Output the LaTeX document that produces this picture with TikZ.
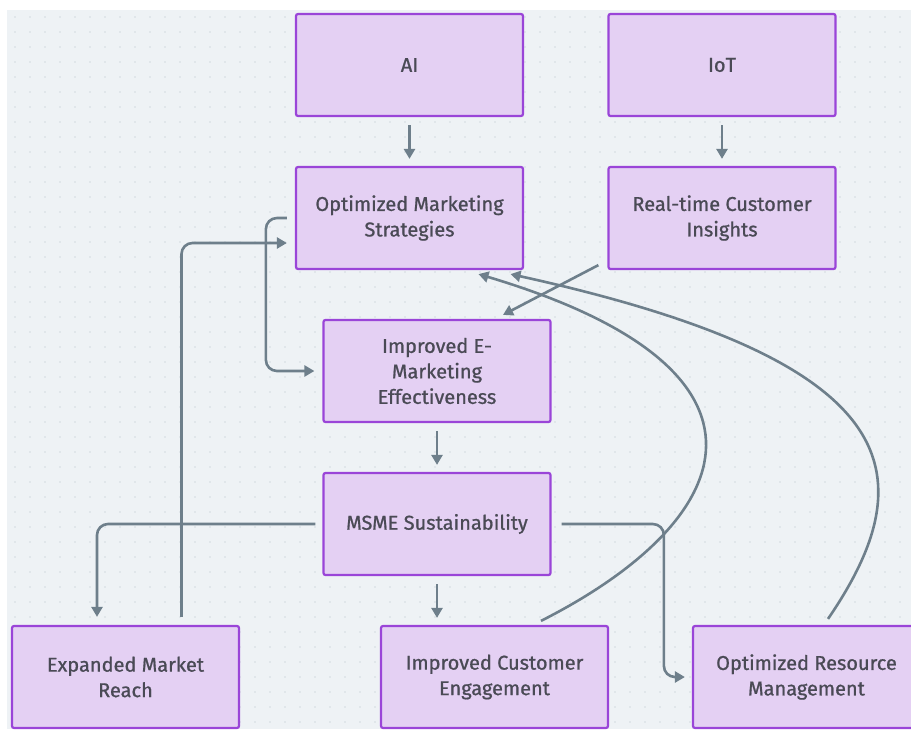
\documentclass[tikz,border=0pt]{standalone}
\usepackage{fontspec}
\setmainfont{Fira Sans}[UprightFeatures={FakeBold=0.9}]
\usetikzlibrary{arrows.meta}
\definecolor{bgc}{HTML}{EEF2F5}
\definecolor{dotc}{HTML}{D3DAE0}
\definecolor{boxfill}{HTML}{E4D0F3}
\definecolor{boxdraw}{HTML}{9A45D8}
\definecolor{linec}{HTML}{6E7F8B}
\definecolor{txtc}{HTML}{4A4A55}
\tikzset{
  box/.style={draw=boxdraw, fill=boxfill, line width=2.2pt, rounded corners=2pt,
    minimum width=227pt, minimum height=102pt, align=center, inner sep=0pt,
    text=txtc, font=\fontsize{20pt}{25.5pt}\selectfont},
  arr/.style={draw=linec, line width=2.6pt, -{Triangle[length=10pt,width=11pt]}, rounded corners=11pt},
}
\begin{document}
\begin{tikzpicture}[x=1pt,y=-1pt]
\useasboundingbox (0,0) rectangle (911,729);
\fill[white] (0,0) rectangle (911,729);
\fill[bgc] (7,10) rectangle (911,729);
\foreach \x in {15,30,...,905} {\foreach \y in {17,32,...,727} {\fill[dotc] (\x,\y) circle (0.8pt);}}
\node[box] (ai) at (409.5,65) {AI};
\node[box] (iot) at (722,65) {IoT};
\node[box] (oms) at (409.5,218) {Optimized Marketing\\Strategies};
\node[box] (rtci) at (722,218) {Real-time Customer\\Insights};
\node[box] (ieme) at (437,371) {Improved E-\\Marketing\\Effectiveness};
\node[box] (msme) at (437,524) {MSME Sustainability};
\node[box] (emr) at (125.5,677) {Expanded Market\\Reach};
\node[box] (ice) at (494.5,677) {Improved Customer\\Engagement};
\node[box] (orm) at (806.5,677) {Optimized Resource\\Management};
\draw[arr,shorten <=8pt,shorten >=7pt] (ai) -- (oms);
\draw[arr,shorten <=8pt,shorten >=7pt] (iot) -- (rtci);
\draw[arr,shorten <=8pt,shorten >=7pt] (ieme) -- (msme);
\draw[arr,shorten <=8pt,shorten >=7pt] (msme.south) -- (msme.south |- ice.north);
\draw[arr] ([xshift=-8pt]oms.west) -- ([xshift=-29pt]oms.west) |- ([xshift=-8pt]ieme.west);
\draw[arr] ([xshift=56pt,yshift=8pt]emr.north) |- ([xshift=-8pt,yshift=-25pt]oms.west);
\draw[arr] ([xshift=-9pt,yshift=5pt]rtci.south west) -- ([xshift=66pt,yshift=4pt]ieme.north);
\draw[arr] ([xshift=-7pt]msme.west) -| ([xshift=-28.5pt,yshift=8pt]emr.north);
\draw[arr] ([xshift=10pt]msme.east) -| ([xshift=-28pt]orm.west) -- ([xshift=-7pt]orm.west);
\draw[arr] ([xshift=46.5pt,yshift=4pt]ice.north) .. controls (740,520) and (800,370) .. ([xshift=69pt,yshift=-4pt]oms.south);
\draw[arr] ([xshift=21.5pt,yshift=6pt]orm.north) .. controls (930,470) and (900,360) .. ([xshift=101pt,yshift=-4pt]oms.south);
\end{tikzpicture}
\end{document}
